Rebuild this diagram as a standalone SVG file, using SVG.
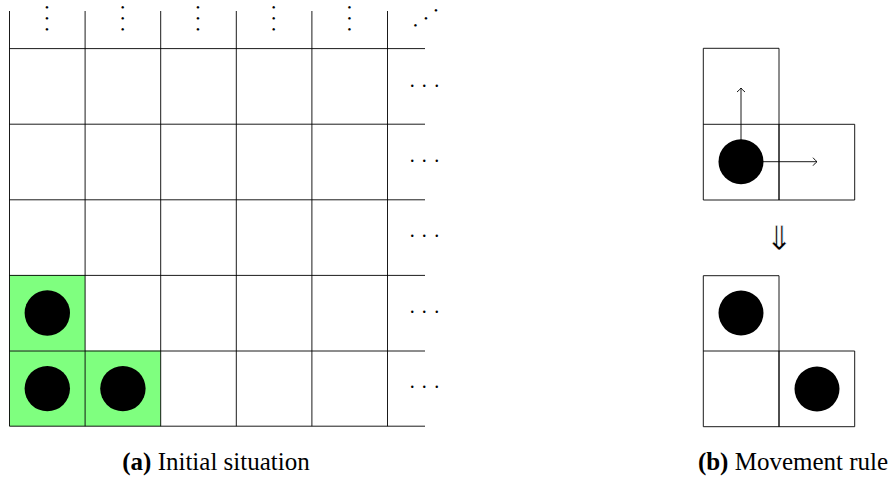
<svg xmlns="http://www.w3.org/2000/svg" width="891" height="478" viewBox="0 0 891 478">
<style>
.g{stroke:#000;stroke-width:0.9;fill:none}
.c{fill:#7fff7f}
.d{fill:#000}
.dots{font-family:"Liberation Serif",serif;font-size:20px;fill:#000}
.vd{font-family:"Liberation Serif",serif;font-size:11px;fill:#000}
.cap{font-family:"Liberation Serif",serif;font-size:25px;fill:#000;text-anchor:middle}
.arr{stroke:#000;stroke-width:0.9;fill:none}
</style>
<defs>
<marker id="to" viewBox="-6 -5 8 10" markerWidth="8" markerHeight="10" refX="0" refY="0" orient="auto" markerUnits="userSpaceOnUse">
<path d="M-4,-4 Q-1,-0.5 0,0 Q-1,0.5 -4,4" fill="none" stroke="#000" stroke-width="0.9"/>
</marker>
</defs>
<g id="grid">
<rect class="c" x="9.5" y="275" width="75.6" height="75.6"/>
<rect class="c" x="9.5" y="350.6" width="75.6" height="75.6"/>
<rect class="c" x="85.1" y="350.6" width="75.6" height="75.6"/>
<path class="g" d="M9.5,11V426.2M85.1,11V426.2M160.7,11V426.2M236.3,11V426.2M311.9,11V426.2M387.5,11V426.2M9.5,48.6H425M9.5,124.2H425M9.5,199.8H425M9.5,275.4H425M9.5,351H425M9.5,426.2H425"/>
<circle class="d" cx="47.3" cy="313" r="22.7"/>
<circle class="d" cx="47.3" cy="388.6" r="22.7"/>
<circle class="d" cx="122.9" cy="388.6" r="22.7"/>
<text class="vd" x="45.1 45.1 45.1" y="10.5 21.5 32.5">•••</text>
<text class="vd" x="120.8 120.8 120.8" y="10.5 21.5 32.5">•••</text>
<text class="vd" x="196.1 196.1 196.1" y="10.5 21.5 32.5">•••</text>
<text class="vd" x="271.8 271.8 271.8" y="10.5 21.5 32.5">•••</text>
<text class="vd" x="347.4 347.4 347.4" y="10.5 21.5 32.5">•••</text>
<text class="vd" x="413.4 424.1 434.1" y="29.2 21.5 13.5">•••</text>
<text class="dots" x="409.8 421.8 434.2" y="87.1">...</text>
<text class="dots" x="409.8 421.8 434.2" y="162.1">...</text>
<text class="dots" x="409.8 421.8 434.2" y="237.4">...</text>
<text class="dots" x="409.8 421.8 434.2" y="312.8">...</text>
<text class="dots" x="409.8 421.8 434.2" y="388.4">...</text>
</g>
<g id="rule-before">
<path class="g" d="M703.3,48.3H779V200H703.3ZM703.3,124.3H854.7V200H779V124.3"/>
<circle class="d" cx="741" cy="161.7" r="22.5"/>
</g>
<g id="connectors">
<line class="arr" x1="741" y1="161.7" x2="741" y2="88" marker-end="url(#to)"/>
<line class="arr" x1="741" y1="161.7" x2="817" y2="161.7" marker-end="url(#to)"/>
</g>
<g id="implies">
<text x="779" y="250" style="font-family:'DejaVu Sans',sans-serif;font-size:34px;text-anchor:middle;stroke:#fff;stroke-width:0.6;paint-order:normal">⇓</text>
</g>
<g id="rule-after">
<path class="g" d="M703.3,275.7H779V426.7H703.3ZM703.3,351H854.7V426.7H779V351"/>
<circle class="d" cx="741" cy="313" r="22.5"/>
<circle class="d" cx="817" cy="389" r="22.5"/>
</g>
<g id="captions">
<text class="cap" x="216" y="470"><tspan font-weight="bold">(a)</tspan> Initial situation</text>
<text class="cap" x="793" y="470"><tspan font-weight="bold">(b)</tspan> Movement rule</text>
</g>
</svg>
